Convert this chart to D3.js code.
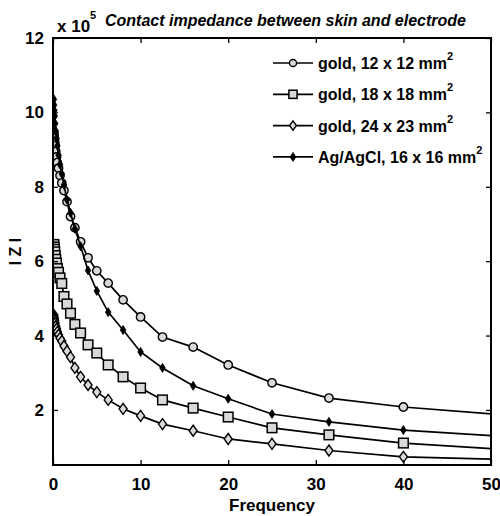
<!DOCTYPE html>
<html>
<head>
<meta charset="utf-8">
<script src="https://cdn.jsdelivr.net/npm/d3@7"></script>
<style>
	body { margin: 0; background: #fff; }
	svg { display: block; font-family: 'Liberation Sans', Arial, sans-serif; }
</style>
</head>
<body>
<div id="chart"></div>
<script>
// frequencies (1/3 octave steps), last one lies past the axis limit and is clipped
var freqs = [0.1, 0.125, 0.16, 0.2, 0.25, 0.315, 0.4, 0.5, 0.63, 0.8, 1, 1.25, 1.6, 2, 2.5, 3.15, 4, 5, 6.3, 8, 10, 12.5, 16, 20, 25, 31.5, 40, 63];

// |Z| in units of 1e5
var gold12 = [9.45, 9.38, 9.3, 9.2, 9.1, 8.95, 8.8, 8.65, 8.5, 8.3, 8.1, 7.9, 7.6, 7.2, 6.9, 6.52, 6.09, 5.74, 5.41, 4.96, 4.5, 3.96, 3.69, 3.21, 2.73, 2.32, 2.08, 1.65];
var gold18 = [6.45, 6.38, 6.32, 6.25, 6.15, 6.05, 5.95, 5.8, 5.7, 5.55, 5.4, 5.05, 4.85, 4.6, 4.3, 4.07, 3.75, 3.53, 3.21, 2.89, 2.59, 2.27, 2.05, 1.81, 1.52, 1.33, 1.11, 0.76];
var gold24 = [4.55, 4.5, 4.45, 4.4, 4.33, 4.25, 4.18, 4.1, 4.02, 3.93, 3.85, 3.72, 3.58, 3.42, 3.13, 2.89, 2.67, 2.48, 2.27, 2.03, 1.84, 1.62, 1.44, 1.22, 1.09, 0.91, 0.74, 0.6];
var agcl16 = [10.35, 10.2, 10.05, 9.9, 9.7, 9.5, 9.3, 9.1, 8.85, 8.6, 8.35, 8.05, 7.65, 7.3, 6.87, 6.4, 5.75, 5.2, 4.63, 4.15, 3.56, 3.13, 2.65, 2.3, 1.89, 1.68, 1.46, 1.12];

var seriesNames = ['gold, 12 x 12 mm', 'gold, 18 x 18 mm', 'gold, 24 x 23 mm', 'Ag/AgCl, 16 x 16 mm'];
var xTicks = [0, 10, 20, 30, 40, 50];
var yTicks = [2, 4, 6, 8, 10, 12];

var width = 500, height = 516;
var margin = {top: 38, right: 9, bottom: 51, left: 53};
var w = width - margin.left - margin.right,
	h = height - margin.top - margin.bottom;

var svg = d3.select('#chart').append('svg')
	.attr('width', width)
	.attr('height', height);

var x = d3.scaleLinear().domain([0, 50]).range([0, w]);
var y = d3.scaleLinear().domain([0.52, 12]).range([h, 0]);

var cont = svg.append('g')
	.attr('transform', 'translate(' + margin.left + ',' + margin.top + ')');

cont.append('clipPath')
	.attr('id', 'plot-clip')
	.append('rect')
		.attr('width', w)
		.attr('height', h);

// series setup
var series = [
	{name: seriesNames[0], values: gold12, marker: 'circle'},
	{name: seriesNames[1], values: gold18, marker: 'square'},
	{name: seriesNames[2], values: gold24, marker: 'diamond'},
	{name: seriesNames[3], values: agcl16, marker: 'dot'}
];

function drawMarker(g, type, k) {
	k = k || 1;
	if(type === 'circle') {
		g.append('circle').attr('r', 4.2 * k)
			.attr('fill', '#d9d9d9').attr('stroke', '#000').attr('stroke-width', 1.4);
	}
	else if(type === 'square') {
		var s = 4.8 * k;
		g.append('rect').attr('x', -s).attr('y', -s).attr('width', 2 * s).attr('height', 2 * s)
			.attr('fill', '#d9d9d9').attr('stroke', '#000').attr('stroke-width', 1.5);
	}
	else if(type === 'diamond') {
		g.append('path').attr('d', 'M0,' + (-5.5 * k) + 'L' + (4 * k) + ',0L0,' + (5.5 * k) + 'L' + (-4 * k) + ',0Z')
			.attr('fill', '#d9d9d9').attr('stroke', '#000').attr('stroke-width', 1.4);
	}
	else {
		g.append('path').attr('d', 'M0,-4.5L2.8,0L0,4.5L-2.8,0Z')
			.attr('fill', '#000').attr('stroke', '#000').attr('stroke-width', 0.8);
	}
}

var line = d3.line()
	.x(function(d) { return x(d.f); })
	.y(function(d) { return y(d.v); });

var plot = cont.append('g').attr('clip-path', 'url(#plot-clip)');

series.forEach(function(s) {
	var pts = freqs.map(function(f, i) { return {f: f, v: s.values[i]}; });
	plot.append('path')
		.datum(pts)
		.attr('fill', 'none')
		.attr('stroke', '#000')
		.attr('stroke-width', 1.7)
		.attr('d', line);
	plot.selectAll(null)
		.data(pts)
		.enter().append('g')
			.attr('transform', function(d) { return 'translate(' + x(d.f) + ',' + y(d.v) + ')'; })
			.each(function() { drawMarker(d3.select(this), s.marker); });
});

// axes (matlab style box with inward ticks)
var axisFont = function(g) {
	g.selectAll('text')
		.attr('font-size', 17)
		.attr('font-weight', 'bold')
		.attr('fill', '#000');
	g.selectAll('line').attr('stroke', '#000').attr('stroke-width', 1.3);
	g.select('.domain').remove();
};

cont.append('g')
	.attr('transform', 'translate(0,' + h + ')')
	.call(d3.axisBottom(x).tickValues(xTicks).tickSize(-5).tickPadding(13))
	.call(axisFont);

cont.append('g')
	.call(d3.axisTop(x).tickValues(xTicks).tickSize(-5).tickFormat(''))
	.call(axisFont);

cont.append('g')
	.call(d3.axisLeft(y).tickValues(yTicks).tickSize(-5).tickPadding(9))
	.call(axisFont);

cont.append('g')
	.attr('transform', 'translate(' + w + ',0)')
	.call(d3.axisRight(y).tickValues(yTicks).tickSize(-5).tickFormat(''))
	.call(axisFont);

cont.append('rect')
	.attr('width', w)
	.attr('height', h)
	.attr('fill', 'none')
	.attr('stroke', '#000')
	.attr('stroke-width', 2);

// legend
var legend = cont.append('g')
	.attr('transform', 'translate(' + (273 - margin.left) + ',' + (63 - margin.top) + ')');

series.forEach(function(s, i) {
	var row = legend.append('g').attr('transform', 'translate(0,' + (i * 31.3) + ')');
	row.append('line')
		.attr('x1', 0).attr('x2', 40)
		.attr('stroke', '#000').attr('stroke-width', 1.7);
	drawMarker(row.append('g').attr('transform', 'translate(20,0)'), s.marker, 0.85);
	var t = row.append('text')
		.attr('x', 45)
		.attr('y', 6)
		.attr('font-size', 16)
		.attr('font-weight', 'bold')
		.text(s.name);
	t.append('tspan')
		.attr('font-size', 11)
		.attr('dy', -9)
		.text('2');
});

// title and exponent
var expo = svg.append('text')
	.attr('x', 57)
	.attr('y', 32)
	.attr('font-size', 17)
	.attr('font-weight', 'bold')
	.text('x 10');
expo.append('tspan')
	.attr('font-size', 11)
	.attr('dy', -13)
	.text('5');

svg.append('text')
	.attr('x', 105)
	.attr('y', 26)
	.attr('font-size', 16)
	.attr('font-weight', 'bold')
	.attr('font-style', 'italic')
	.text('Contact impedance between skin and electrode');

svg.append('text')
	.attr('transform', 'translate(21,' + (margin.top + h / 2) + ') rotate(-90)')
	.attr('text-anchor', 'middle')
	.attr('font-size', 16)
	.attr('font-weight', 'bold')
	.text('I Z I');

svg.append('text')
	.attr('x', margin.left + w / 2)
	.attr('y', 511)
	.attr('text-anchor', 'middle')
	.attr('font-size', 17)
	.attr('font-weight', 'bold')
	.text('Frequency');
</script>
</body>
</html>
